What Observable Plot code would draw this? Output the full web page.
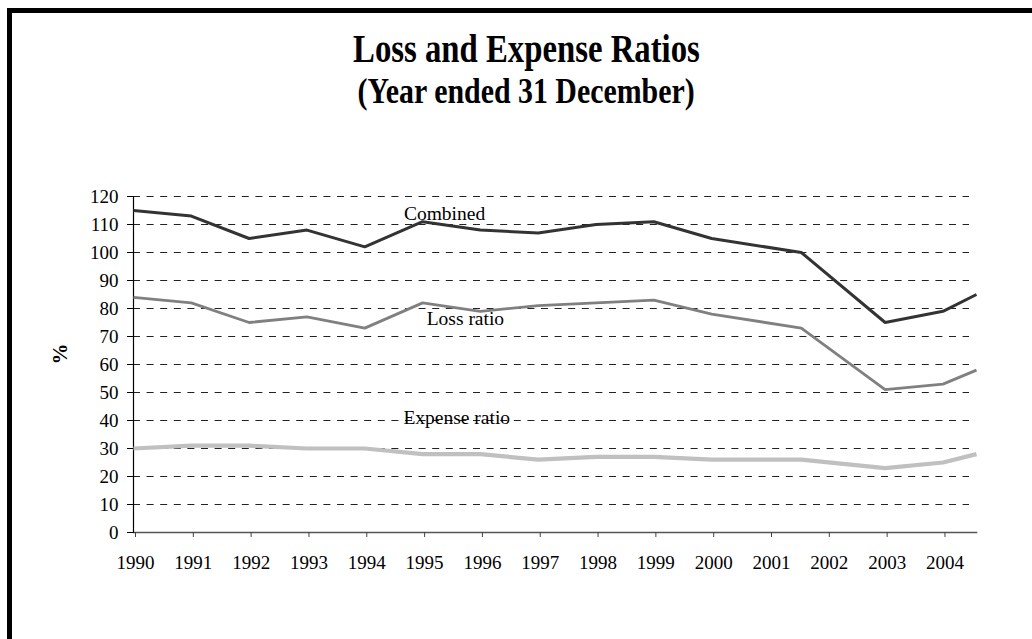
<!DOCTYPE html>
<html>
<head>
<meta charset="utf-8">
<script src="https://cdn.jsdelivr.net/npm/d3@7"></script>
<script src="https://cdn.jsdelivr.net/npm/@observablehq/plot@0.6"></script>
<style>
  html, body { margin: 0; padding: 0; background: #fff; width: 1032px; height: 639px; overflow: hidden; }
  #frame { position: absolute; left: 7px; top: 8px; width: 1100px; height: 700px;
           border-top: 5px solid #000; border-left: 5px solid #000; box-sizing: border-box; }
  .ttl { position: absolute; left: 10px; width: 1032px; text-align: center;
         font-family: "Liberation Serif", "Times New Roman", serif; font-weight: bold; color: #000;
         white-space: nowrap; line-height: 1; }
  .ttl span { display: inline-block; transform-origin: center; }
  #chart { position: absolute; left: 0; top: 0; }
</style>
</head>
<body>
<div id="frame"></div>
<div class="ttl" id="t1" style="top:29px;font-size:39px;"><span style="transform:scaleX(0.84)">Loss and Expense Ratios</span></div>
<div class="ttl" id="t2" style="top:73px;font-size:36px;"><span style="transform:scaleX(0.83)">(Year ended 31 December)</span></div>
<div id="chart"></div>
<script>
// x positions of the data points (years; the 2002 figure sits mid-2001 on the original axis)
const periods  = [1990, 1991, 1992, 1993, 1994, 1995, 1996, 1997, 1998, 1999, 2000, 2001.55, 2003, 2004, 2004.58];
const combined = [115, 113, 105, 108, 102, 111, 108, 107, 110, 111, 105, 100, 75, 79, 85];
const lossRatio = [84, 82, 75, 77, 73, 82, 79, 81, 82, 83, 78, 73, 51, 53, 58];
const expenseRatio = [30, 31, 31, 30, 30, 28, 28, 26, 27, 27, 26, 26, 23, 25, 28];

const yearTicks = [1990, 1991, 1992, 1993, 1994, 1995, 1996, 1997, 1998, 1999, 2000, 2001, 2002, 2003, 2004];
const yTicks = [0, 10, 20, 30, 40, 50, 60, 70, 80, 90, 100, 110, 120];

const seriesNames = ["Expense ratio", "Loss ratio", "Combined"];
const seriesValues = [expenseRatio, lossRatio, combined];
const seriesColors = ["#c0c0c0", "#808080", "#333333"];
const seriesWidths = [4.2, 2.8, 3];

// in-chart series labels (data coordinates)
const labelNames = ["Combined", "Loss ratio", "Expense ratio"];
const labelX = [1995.38, 1995.74, 1995.59];
const labelY = [113.9, 76.4, 41.1];

const rows = [];
seriesNames.forEach((name, i) => {
  periods.forEach((p, j) => rows.push({series: name, x: p, y: seriesValues[i][j]}));
});
const labels = labelNames.map((n, i) => ({name: n, x: labelX[i], y: labelY[i]}));

const font = "\"Liberation Serif\", \"Times New Roman\", serif";

const chart = Plot.plot({
  width: 1032,
  height: 600,
  marginLeft: 133,
  marginRight: 56,
  marginTop: 196,
  marginBottom: 68,
  style: {fontFamily: font, fontSize: "19px", color: "#000", background: "transparent"},
  x: {type: "linear", domain: [1990, 2004.58]},
  y: {domain: [0, 120]},
  marks: [
    Plot.ruleY(yTicks.filter(d => d > 0), {stroke: "#222", strokeWidth: 1, strokeDasharray: "7,6.6", insetRight: 7}),
    Plot.frame({anchor: "bottom", stroke: "#555", strokeWidth: 1.6}),
    Plot.frame({anchor: "left", stroke: "#000", strokeWidth: 1.2}),
    Plot.axisY({ticks: yTicks, tickSize: 6, tickPadding: 9, label: null, fontSize: 19, stroke: "#000"}),
    Plot.axisX({ticks: yearTicks, tickFormat: d => String(d), tickSize: 5, tickPadding: 18, label: null, fontSize: 19, dx: 2, stroke: "#444"}),
    ...seriesNames.map((name, i) =>
      Plot.line(rows.filter(r => r.series === name), {x: "x", y: "y", stroke: seriesColors[i], strokeWidth: seriesWidths[i], strokeLinejoin: "miter", strokeLinecap: "butt"})
    ),
    Plot.text(labels, {x: "x", y: "y", text: "name", fontSize: 19.5, fill: "#000", textAnchor: "middle", lineAnchor: "middle"}),
    Plot.text(["%"], {frameAnchor: "left", dx: -73, rotate: -90, text: d => d, fontSize: 21, fontWeight: "bold", fill: "#000"})
  ]
});
document.getElementById("chart").appendChild(chart);
</script>
</body>
</html>
